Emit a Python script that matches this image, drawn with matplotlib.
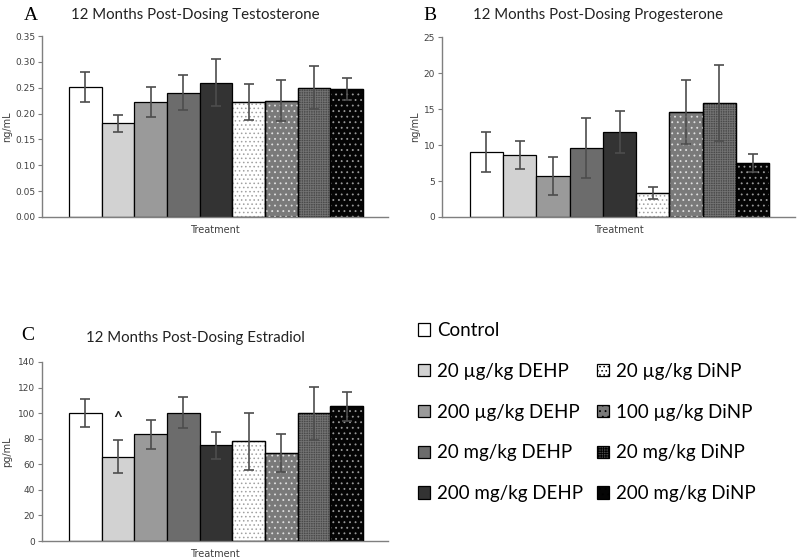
import numpy as np
import matplotlib.pyplot as plt
from matplotlib.patches import Patch

groups = ['Control', '20 µg/kg DEHP', '200 µg/kg DEHP', '20 mg/kg DEHP', '200 mg/kg DEHP',
          '20 µg/kg DiNP', '100 µg/kg DiNP', '20 mg/kg DiNP', '200 mg/kg DiNP']

testo_mean = [0.252, 0.181, 0.222, 0.240, 0.260, 0.223, 0.225, 0.250, 0.248]
testo_err = [0.029, 0.017, 0.029, 0.034, 0.045, 0.035, 0.040, 0.042, 0.021]

prog_mean = [9.0, 8.55, 5.7, 9.6, 11.8, 3.3, 14.6, 15.8, 7.5]
prog_err = [2.8, 1.95, 2.6, 4.2, 2.95, 0.8, 4.45, 5.3, 1.3]

estr_mean = [99.8, 66.0, 83.4, 100.4, 74.8, 78.0, 68.6, 99.8, 105.3]
estr_err = [11.0, 13.0, 11.5, 12.2, 10.5, 22.3, 15.0, 20.8, 11.5]

# fill colour, hatch, hatch colour
styles = [
	('white', None, None),
	('#d2d2d2', None, None),
	('#9a9a9a', None, None),
	('#6c6c6c', None, None),
	('#333333', None, None),
	('white', '....', '#a0a0a0'),
	('#7a7a7a', '...', '#e0e0e0'),
	('#4a4a4a', '+++++++', '#727272'),
	('#050505', '...', '#9a9a9a'),
]

plt.rcParams['hatch.linewidth'] = 0.6
title_font = 'Lato'
axis_col = '#7f7f7f'
text_col = '#404040'


def drawPanel(ax, means, errs, yticks, ylabel, letter, title, title_y, letter_pos, ylab_x):
	x = np.arange(len(means))
	for i in range(len(means)):
		fc, hatch, hc = styles[i]
		ax.bar(x[i], means[i], width=1.0, color=fc, edgecolor='black', linewidth=0.9, zorder=2)
		if hatch:
			ax.bar(x[i], means[i], width=1.0, color='none', edgecolor=hc, hatch=hatch, linewidth=0, zorder=3)
			ax.bar(x[i], means[i], width=1.0, color='none', edgecolor='black', linewidth=0.9, zorder=4)
	ax.errorbar(x, means, yerr=errs, fmt='none', ecolor='#4d4d4d', elinewidth=1.2, capsize=3.5, capthick=1.2, zorder=5)
	ax.set_xlim(-1.33, 9.27)
	ax.set_ylim(yticks[0], yticks[-1])
	ax.set_yticks(yticks)
	ax.set_xticks([])
	for s in ['top', 'right']:
		ax.spines[s].set_visible(False)
	for s in ['left', 'bottom']:
		ax.spines[s].set_color(axis_col)
		ax.spines[s].set_linewidth(1.0)
	ax.tick_params(axis='y', length=3, color=axis_col, labelsize=6.5, labelcolor=text_col, pad=2)
	ax.set_ylabel(ylabel, fontsize=7, color=text_col)
	ax.yaxis.set_label_coords(ylab_x, 0.5)
	ax.set_xlabel('Treatment', fontsize=7, color=text_col, labelpad=6)
	ax.text(0.443, title_y, title, transform=ax.transAxes, fontsize=10.8, family=title_font,
	        color='#222222', ha='center', va='center')
	ax.text(letter_pos[0], letter_pos[1], letter, transform=ax.transAxes, fontsize=14,
	        family='Liberation Serif', ha='center', va='center')


fig = plt.figure(figsize=(8, 5.6), dpi=100)
axA = fig.add_axes([0.0525, 0.6125, 0.4325, 0.3232])
axB = fig.add_axes([0.5525, 0.6125, 0.4413, 0.3214])
axC = fig.add_axes([0.0525, 0.0339, 0.4325, 0.3197])

drawPanel(axA, testo_mean, testo_err, [0, 0.05, 0.10, 0.15, 0.20, 0.25, 0.30, 0.35], 'ng/mL', 'A',
          '12 Months Post-Dosing Testosterone', 1.116, (-0.032, 1.116), -0.085)
axA.set_yticklabels(['%.2f' % v for v in axA.get_yticks()])
drawPanel(axB, prog_mean, prog_err, [0, 5, 10, 15, 20, 25], 'ng/mL', 'B',
          '12 Months Post-Dosing Progesterone', 1.122, (-0.034, 1.122), -0.063)
drawPanel(axC, estr_mean, estr_err, [0, 20, 40, 60, 80, 100, 120, 140], 'pg/mL', 'C',
          '12 Months Post-Dosing Estradiol', 1.134, (-0.04, 1.15), -0.085)
axC.text(1, estr_mean[1] + estr_err[1] + 17, '^', ha='center', va='center', fontsize=11,
         fontweight='bold', family=title_font, color='#222222')

# legend: first column DEHP, second column DiNP (blank slot next to Control)
handles = []
labels = []
for i in [0, 1, 2, 3, 4]:
	fc, hatch, hc = styles[i]
	handles.append(Patch(facecolor=fc, edgecolor='black', linewidth=0.9))
	labels.append(groups[i])
handles.append(Patch(facecolor='none', edgecolor='none'))
labels.append('')
for i in [5, 6, 7, 8]:
	fc, hatch, hc = styles[i]
	handles.append(Patch(facecolor=fc, edgecolor='black', linewidth=0.9, hatch=hatch))
	labels.append(groups[i])

fig.legend(handles, labels, ncol=2, loc='upper left', bbox_to_anchor=(418 / 800, 1 - 322 / 560),
           frameon=False, prop={'family': title_font, 'size': 13.5}, handlelength=0.65, handleheight=0.65,
           handletextpad=0.38, columnspacing=0.7, labelspacing=1.27, borderpad=0, borderaxespad=0)

fig.savefig('out.png', dpi=100)
